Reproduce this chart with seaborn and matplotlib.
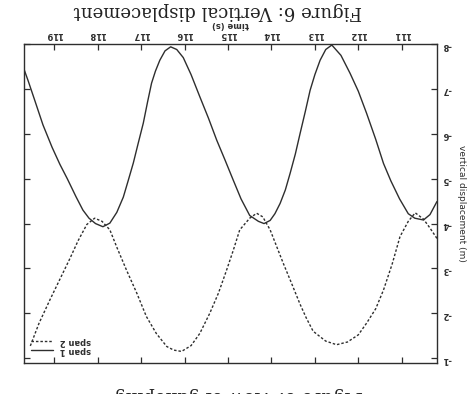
import matplotlib
matplotlib.use("Agg")
import matplotlib.pyplot as plt
import seaborn as sns
import pandas as pd

# ---- data (read from the scanned, upside-down figure) ----
t_span1 = [110.19, 110.35, 110.50, 110.70, 110.85, 111.05, 111.25, 111.42, 111.60, 111.81,
           112.00, 112.19, 112.40, 112.61, 112.75, 112.88, 113.00, 113.11, 113.22, 113.34,
           113.45, 113.57, 113.68, 113.80, 113.92, 114.03, 114.17, 114.30, 114.50, 114.70,
           114.88, 115.07, 115.26, 115.45, 115.65, 115.85, 116.03, 116.18, 116.32, 116.45,
           116.57, 116.67, 116.76, 116.85, 116.95, 117.07, 117.18, 117.30, 117.41, 117.56,
           117.72, 117.88, 118.05, 118.20, 118.34, 118.50, 118.70, 118.87, 119.05, 119.26,
           119.45, 119.60, 119.70]
v_span1 = [-4.49, -4.20, -4.08, -4.12, -4.22, -4.55, -4.95, -5.34, -5.88, -6.46,
           -6.95, -7.35, -7.75, -7.98, -7.88, -7.64, -7.32, -6.97, -6.50, -6.01,
           -5.55, -5.12, -4.75, -4.45, -4.22, -4.07, -4.00, -4.05, -4.18, -4.55,
           -4.97, -5.42, -5.86, -6.35, -6.83, -7.32, -7.70, -7.88, -7.94, -7.85,
           -7.64, -7.40, -7.13, -6.72, -6.24, -5.78, -5.35, -4.95, -4.59, -4.25,
           -4.01, -3.93, -4.00, -4.12, -4.30, -4.60, -5.00, -5.32, -5.70, -6.20,
           -6.75, -7.18, -7.45]

t_span2 = [110.19, 110.35, 110.50, 110.69, 110.85, 111.04, 111.22, 111.42, 111.60, 111.81,
           112.00, 112.25, 112.50, 112.75, 113.04, 113.20, 113.34, 113.55, 113.73, 114.03,
           114.20, 114.34, 114.50, 114.73, 114.88, 115.03, 115.22, 115.42, 115.65, 115.85,
           116.07, 116.25, 116.41, 116.65, 116.88, 117.10, 117.34, 117.55, 117.72, 117.90,
           118.07, 118.25, 118.45, 118.64, 118.85, 119.10, 119.35, 119.56]
v_span2 = [-3.67, -3.90, -4.10, -4.24, -4.05, -3.71, -3.10, -2.52, -2.10, -1.78,
           -1.52, -1.36, -1.30, -1.38, -1.60, -1.90, -2.20, -2.70, -3.12, -3.86,
           -4.15, -4.23, -4.12, -3.86, -3.40, -2.97, -2.45, -2.00, -1.55, -1.28,
           -1.15, -1.18, -1.26, -1.55, -1.93, -2.45, -2.97, -3.45, -3.86, -4.05,
           -4.12, -3.98, -3.62, -3.22, -2.80, -2.30, -1.78, -1.25]

x_ticks = [111, 112, 113, 114, 115, 116, 117, 118, 119]
y_ticks = [-8, -7, -6, -5, -4, -3, -2, -1]
series_names = ["span 1", "span 2"]
x_label = "time (s)"
y_label = "vertical displacement (m)"
title_top = "Figure 6: Vertical displacement"
title_bottom = "Figure 6: View of galloping"

df1 = pd.DataFrame({"time": t_span1, "disp": v_span1})
df2 = pd.DataFrame({"time": t_span2, "disp": v_span2})

sns.set_style("ticks")
plt.rcParams["font.family"] = ["DejaVu Sans"]
plt.rcParams["axes.unicode_minus"] = False

fig = plt.figure(figsize=(4.77, 3.94), dpi=100)
ax = fig.add_axes([0.050, 0.079, 0.866, 0.809])

ink = "#2e2e2e"
sns.lineplot(data=df1, x="time", y="disp", ax=ax, color=ink, lw=1.0,
             label=series_names[0], sort=False)
sns.lineplot(data=df2, x="time", y="disp", ax=ax, color=ink, lw=1.0,
             linestyle=(0, (1.8, 1.4)), label=series_names[1], sort=False)

# upside-down page: both axes reversed
ax.set_xlim(119.70, 110.19)
ax.set_ylim(-0.895, -8.0)
ax.set_xticks(x_ticks)
ax.set_yticks(y_ticks)
ax.xaxis.tick_top()
ax.xaxis.set_label_position("top")
ax.yaxis.tick_right()
ax.yaxis.set_label_position("right")
ax.tick_params(axis="both", direction="in", length=4, width=0.9, color=ink,
               top=True, bottom=True, left=True, right=True,
               labelsize=6, labelcolor=ink, pad=4)
ax.tick_params(axis="x", labelrotation=180)
ax.tick_params(axis="y", labelrotation=180)
for lab in ax.get_xticklabels() + ax.get_yticklabels():
    lab.set_fontweight("bold")
for s in ax.spines.values():
    s.set_visible(True)
    s.set_linewidth(1.0)
    s.set_color(ink)

ax.set_xlabel(x_label, rotation=180, fontsize=6, fontweight="bold", color=ink, labelpad=2)
ax.set_ylabel(y_label, rotation=270, fontsize=6.5, color=ink, labelpad=10)

h, l = ax.get_legend_handles_labels()
leg = ax.legend(h[::-1], l[::-1], loc="lower left", frameon=False, fontsize=6,
                handlelength=2.6, handletextpad=0.8, labelspacing=0.1,
                borderaxespad=0.5, bbox_to_anchor=(0.0, 0.0))
for txt in leg.get_texts():
    txt.set_rotation(180)
    txt.set_fontweight("bold")
    txt.set_color(ink)

fig.text(0.457, 0.972, title_top, rotation=180, ha="center", va="center",
         family="DejaVu Serif", fontsize=13, color="#222222")
fig.text(0.50, -0.004, title_bottom, rotation=180, ha="center", va="center",
         family="DejaVu Serif", fontsize=13, color="#222222")

fig.savefig("out.png", dpi=100)
